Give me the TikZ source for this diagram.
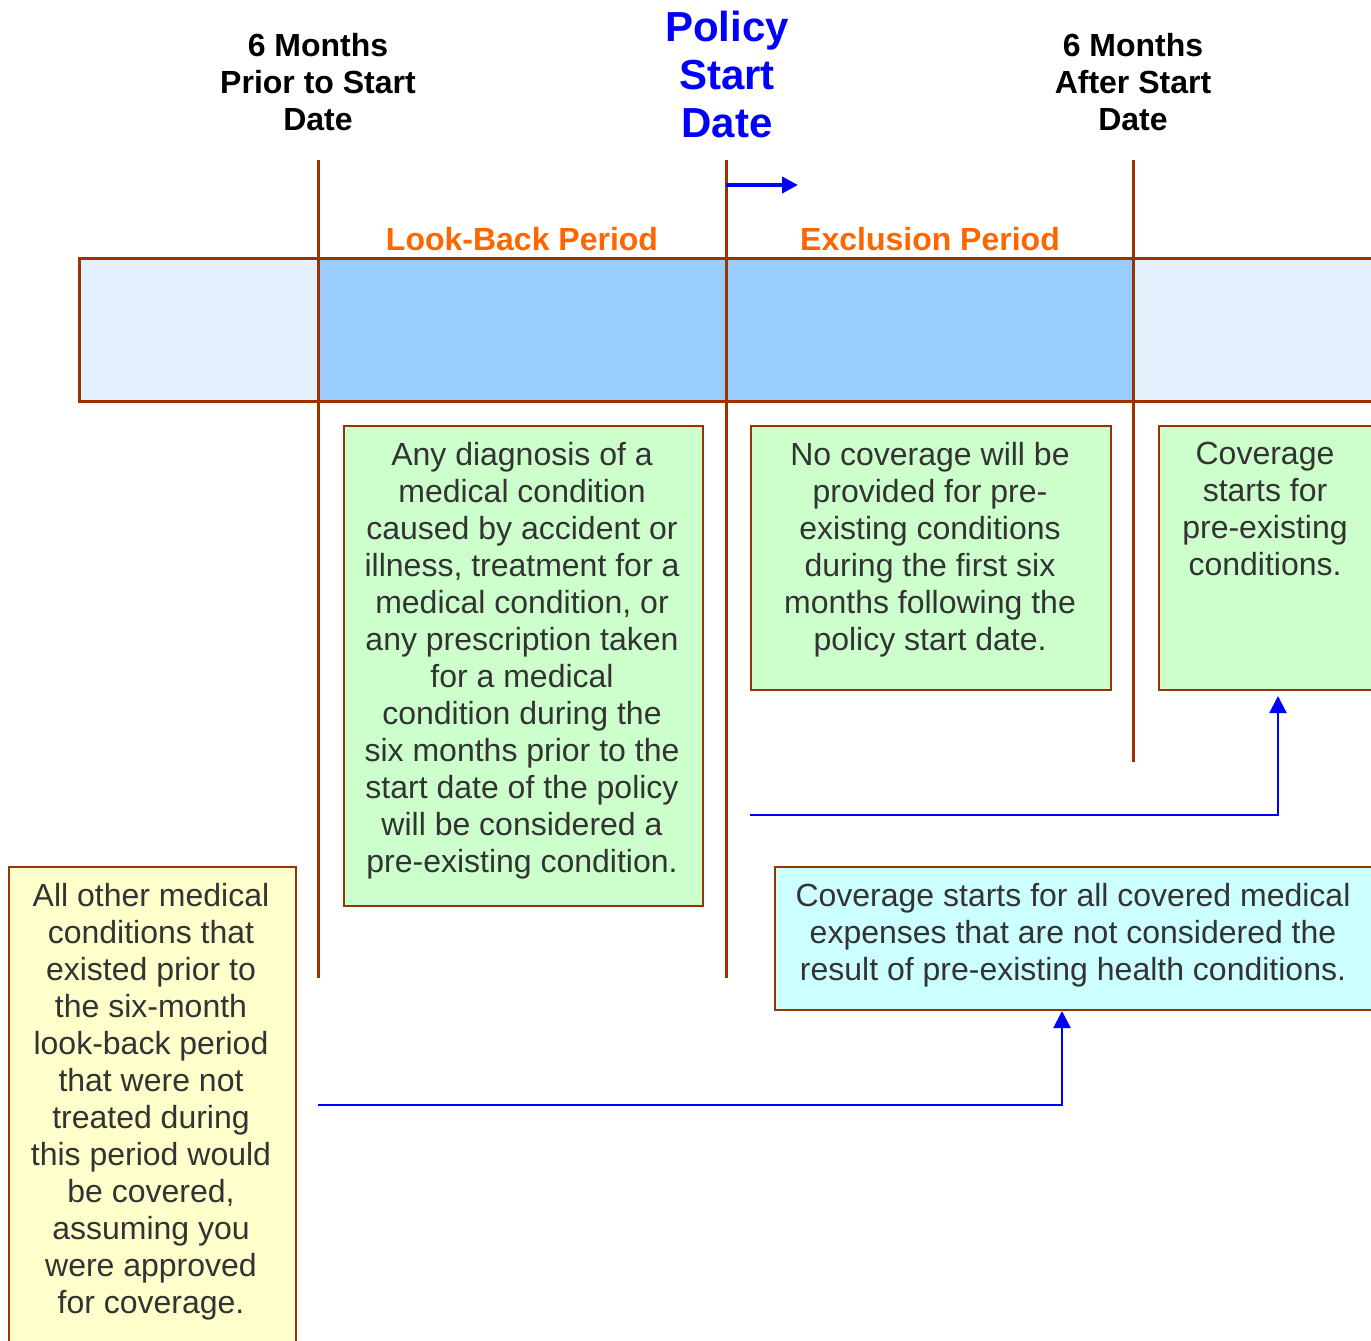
\documentclass[tikz,border=0pt]{standalone}
\usepackage{fontspec}
\setmainfont{Liberation Sans}
\usetikzlibrary{arrows.meta,calc}
\definecolor{rust}{HTML}{993300}
\definecolor{bandpale}{HTML}{E3F1FF}
\definecolor{bandmid}{HTML}{99CCFF}
\definecolor{notegreen}{HTML}{CCFFCC}
\definecolor{noteyellow}{HTML}{FFFFCC}
\definecolor{notecyan}{HTML}{CCFFFF}
\definecolor{periodorange}{HTML}{FF6600}
\definecolor{bodygray}{HTML}{333333}
\definecolor{linkblue}{HTML}{0000FF}
\begin{document}
\begin{tikzpicture}[x=0.5pt,y=-0.5pt,
  note/.style={draw=rust, line width=1pt, rectangle, inner sep=0pt, anchor=north west},
  notetext/.style={anchor=north, inner sep=0pt, align=center, text=bodygray,
    font=\fontsize{16}{18.5}\selectfont},
  heading/.style={anchor=north, inner sep=0pt, align=center,
    font=\bfseries\fontsize{16}{18.5}\selectfont},
  period/.style={anchor=base, inner sep=0pt, text=periodorange,
    font=\bfseries\fontsize{16}{18.75}\selectfont},
  marker/.style={draw=rust, line width=1.5pt},
  link/.style={draw=linkblue, line width=1.1pt, -{Triangle[length=8.5pt,width=8.5pt]}},
]
\useasboundingbox (0,0) rectangle (1371,1340);
\clip (0,0) rectangle (1371,1340);

% timeline band
\fill[bandpale] (79,258) rectangle (1390,401);
\fill[bandmid] (318,258) rectangle (1133,401);
\draw[marker] (1390,258) -- (79,258) -- (79,401) -- (1390,401);

% date markers
\coordinate (m1top) at (318,160);  \coordinate (m1bot) at (318,978);
\coordinate (m2top) at (726,160);  \coordinate (m2bot) at (726,978);
\coordinate (m3top) at (1133,160); \coordinate (m3bot) at (1133,762);
\draw[marker] (m1top) -- (m1bot);
\draw[marker] (m2top) -- (m2bot);
\draw[marker] (m3top) -- (m3bot);

% headings
\node[heading] (h1) at (318,33) {6 Months\\Prior to Start\\Date};
\node[heading] (h3) at (1133,33) {6 Months\\After Start\\Date};
\node[anchor=north, inner sep=0pt, align=center, text=linkblue,
  font=\bfseries\fontsize{21}{24}\selectfont] (h2) at (727,11) {Policy\\Start\\Date};

% direction arrow at the start date
\coordinate (dirstart) at (726,185);
\coordinate (dirend) at (798,185);
\draw[draw=linkblue, line width=2pt, -{Triangle[length=8pt,width=8pt]}] (dirstart) -- (dirend);

% period labels
\node[period] (lb) at (522,250) {Look-Back Period};
\node[period] (ex) at (930,250) {Exclusion Period};

% notes
\node[note, fill=notegreen, minimum width=179.5pt, minimum height=240pt] (g1) at (343,425) {};
\node[note, fill=notegreen, minimum width=180pt, minimum height=132pt] (g2) at (750,425) {};
\node[note, fill=notegreen, minimum width=107pt, minimum height=132pt] (g3) at (1158,425) {};
\node[note, fill=noteyellow, minimum width=143.5pt, minimum height=240pt] (y1) at (8,866) {};
\node[note, fill=notecyan, minimum width=299pt, minimum height=71.5pt] (c1) at (774,866) {};

\node[notetext] (g1t) at (522,442) {Any diagnosis of a\\medical condition\\caused by accident or\\illness, treatment for a\\medical condition, or\\any prescription taken\\for a medical\\condition during the\\six months prior to the\\start date of the policy\\will be considered a\\pre-existing condition.};
\node[notetext] (g2t) at (930,442) {No coverage will be\\provided for pre-\\existing conditions\\during the first six\\months following the\\policy start date.};
\node[notetext] (g3t) at (1265,442) {Coverage\\starts for\\pre-existing\\conditions.};
\node[notetext] (y1t) at (151,883) {All other medical\\conditions that\\existed prior to\\the six-month\\look-back period\\that were not\\treated during\\this period would\\be covered,\\assuming you\\were approved\\for coverage.};
\node[notetext] (c1t) at (1073,883) {Coverage starts for all covered medical\\expenses that are not considered the\\result of pre-existing health conditions.};

% connectors
\coordinate (l1) at (750,815);
\coordinate (l2) at (318,1105);
\draw[link, shorten >=2.5pt] (l1) -| ($(g3.south west)+(120,0)$);
\draw[link] (l2) -| ($(c1.south west)+(288,0)$);
\end{tikzpicture}
\end{document}
